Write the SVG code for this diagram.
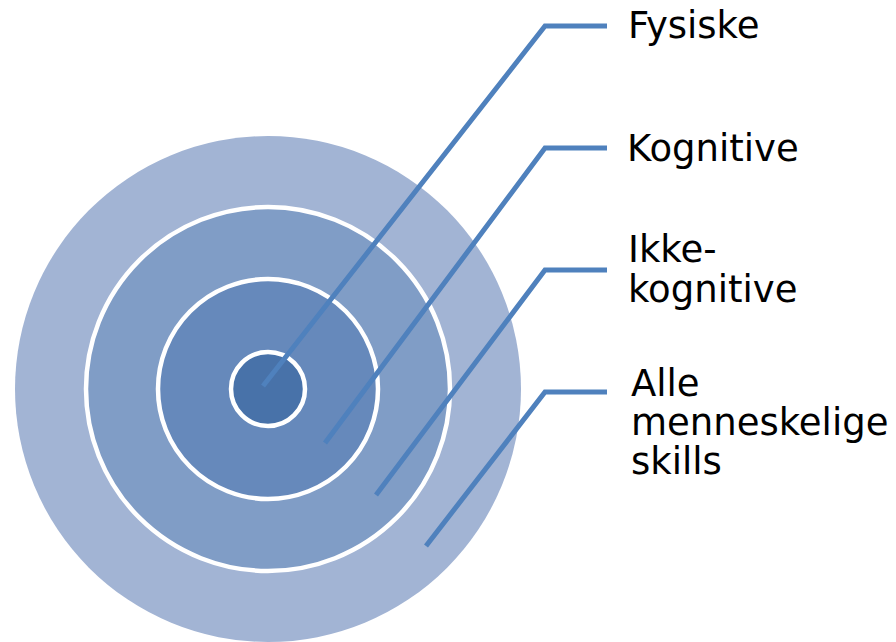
<svg xmlns="http://www.w3.org/2000/svg" width="896" height="642" viewBox="0 0 896 642">
<style>
.ring{stroke:#FFFFFF;stroke-width:4.5}
.lbl{font-family:"DejaVu Sans","Liberation Sans",sans-serif;font-size:37px;fill:#000000}
.conn{fill:none;stroke:#4F81BD;stroke-width:5}
</style>
<rect width="896" height="642" fill="#FFFFFF"/>
<g id="ring-alle"><circle cx="268" cy="389" r="253" fill="#A2B4D4"/></g>
<g id="ring-ikke"><circle class="ring" cx="268" cy="389" r="182" fill="#809DC6"/></g>
<g id="ring-kognitive"><circle class="ring" cx="268" cy="389" r="110" fill="#6689BB"/></g>
<g id="ring-fysiske"><circle class="ring" cx="268" cy="389" r="37" fill="#4872A9"/></g>
<g id="connectors">
<polyline class="conn" points="263,386 545,26 607,26"/>
<polyline class="conn" points="325,443 545,148 607,148"/>
<polyline class="conn" points="376,495 545,270 607,270"/>
<polyline class="conn" points="426,546 545,392 607,392"/>
</g>
<g id="label-fysiske"><text class="lbl" x="628" y="38">Fysiske</text></g>
<g id="label-kognitive"><text class="lbl" x="627" y="161">Kognitive</text></g>
<g id="label-ikke"><text class="lbl" x="628" y="262">Ikke-</text><text class="lbl" x="628" y="302">kognitive</text></g>
<g id="label-alle"><text class="lbl" x="631" y="396">Alle</text><text class="lbl" x="631" y="435">menneskelige</text><text class="lbl" x="631" y="474">skills</text></g>
</svg>
